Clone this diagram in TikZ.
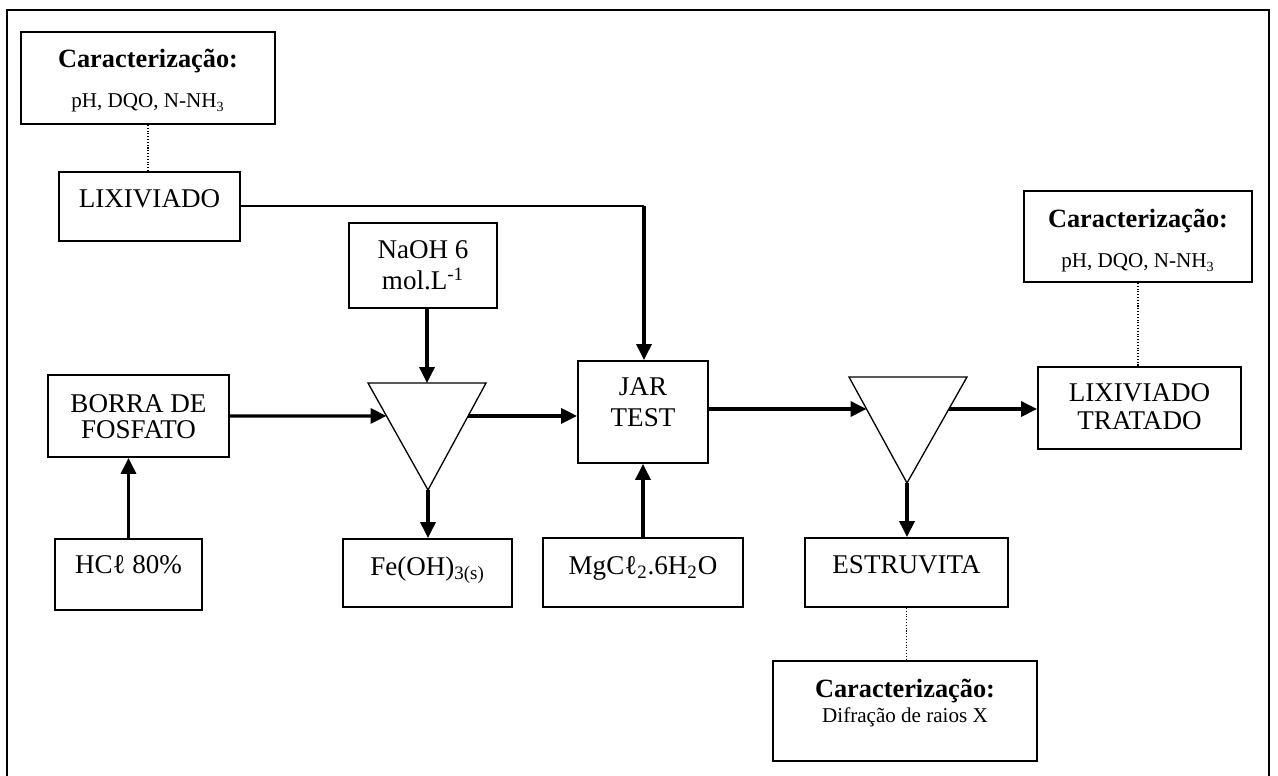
\documentclass[tikz,border=0pt]{standalone}
\usepackage{fontspec}
\setmainfont{Liberation Serif}
\usetikzlibrary{arrows.meta,calc}

\tikzset{
  box/.style 2 args={draw, line width=1.1pt, minimum width=#1*0.02cm,
    minimum height=#2*0.02cm, inner sep=0pt, align=center,
    font=\fontsize{15.4}{15.3}\selectfont},
  txtdp/.style={text height=10pt, text depth=#1},
  txtht/.style={text height=#1, text depth=0pt},
  carac/.style={font=\fontsize{12}{#1}\selectfont},
  arr/.style={line width=1.8pt, -{Triangle[length=9pt,width=8.5pt]}},
  link/.style={line width=0.6pt, densely dotted},
}
\newcommand{\carhead}{{\fontsize{15}{15}\selectfont\bfseries Caracterização:}}

\begin{document}
\begin{tikzpicture}[x=0.02cm,y=-0.02cm]
  \useasboundingbox (0,0) rectangle (1278,776);
  % Frame
  \draw[line width=1.3pt] (7,776) -- (7,10) -- (1269,10) -- (1269,776);

  % Boxes
  \node[box={254}{92}, carac=22.7pt, txtht=34pt] (carTL) at (148,78)
    {\carhead\\pH, DQO, N-NH\textsubscript{3}};
  \node[box={181}{69}, txtdp=8.3pt] (lix) at (149.5,206.5) {LIXIVIADO};
  \node[box={148}{85}, font=\fontsize{15.4}{18.1}\selectfont, txtht=27.8pt] (naoh) at (423,265.5)
    {NaOH 6\\mol.L\textsuperscript{-1}};
  \node[box={181}{82}, txtht=26.1pt] (borra) at (138.5,416) {BORRA DE\\FOSFATO};
  \node[box={147}{71}, txtdp=10.6pt] (hcl) at (128.5,574.5) {HCℓ 80\%};
  \node[box={169}{68}, txtdp=7.7pt] (feoh) at (427.5,573) {Fe(OH)\textsubscript{3(s)}};
  \node[box={130}{102}, font=\fontsize{15.4}{18.1}\selectfont, txtht=17pt] (jar) at (643,412)
    {JAR\\TEST};
  \node[box={200}{69}, txtdp=7.2pt] (mgcl) at (643,572.5)
    {MgCℓ\textsubscript{2}.6H\textsubscript{2}O};
  \node[box={203}{69}, txtdp=9.4pt] (estr) at (906.5,572.5) {ESTRUVITA};
  \node[box={264}{100}, carac=14.7pt, txtht=13.6pt] (carB) at (905,711)
    {\carhead\\Difração de raios X};
  \node[box={203}{82}, font=\fontsize{15.4}{15.9}\selectfont, txtht=24.9pt] (lixT) at (1139.5,408)
    {LIXIVIADO\\TRATADO};
  \node[box={228}{91}, carac=23.2pt, txtht=35.7pt] (carTR) at (1138,236.5)
    {\carhead\\pH, DQO, N-NH\textsubscript{3}};

  % First settler
  \coordinate (t1a) at (368,383);
  \coordinate (t1b) at (486,383);
  \coordinate (t1c) at (428,490);
  \draw[line width=0.75pt] (t1a) -- (t1b) -- (t1c) -- cycle;
  \coordinate (t1top) at (427,383);
  \coordinate (t1in) at ($(t1a)!0.308!(t1c)$);
  \coordinate (t1out) at ($(t1b)!0.308!(t1c)$);

  % Second settler
  \coordinate (t2a) at (849,377);
  \coordinate (t2b) at (967,377);
  \coordinate (t2c) at (907,483);
  \draw[line width=0.75pt] (t2a) -- (t2b) -- (t2c) -- cycle;
  \coordinate (t2in) at ($(t2a)!0.302!(t2c)$);
  \coordinate (t2out) at ($(t2b)!0.302!(t2c)$);

  % Connectors
  \coordinate (bend) at (644,206);
  \draw[link] (carTL.south) -- (carTL.south |- lix.north);
  \draw[line width=1pt] (lix.east |- bend) -- (bend);
  \draw[arr] (bend) -- (bend |- jar.north);
  \draw[arr] (naoh.south -| t1top) -- (t1top);
  \draw[arr] (borra.east) -- (t1in);
  \draw[arr] (t1out) -- (t1out -| jar.west);
  \draw[arr] (t1c) -- (t1c |- feoh.north);
  \draw[arr] (hcl.north) -- (hcl.north |- borra.south);
  \draw[arr] (mgcl.north) -- (jar.south);
  \draw[arr] (t2in -| jar.east) -- (t2in);
  \draw[arr] (t2out) -- (t2out -| lixT.west);
  \draw[arr] (t2c) -- (t2c |- estr.north);
  \draw[link] (carTR.south) -- (carTR.south |- lixT.north);
  \draw[link] (estr.south) -- (estr.south |- carB.north);
\end{tikzpicture}
\end{document}
